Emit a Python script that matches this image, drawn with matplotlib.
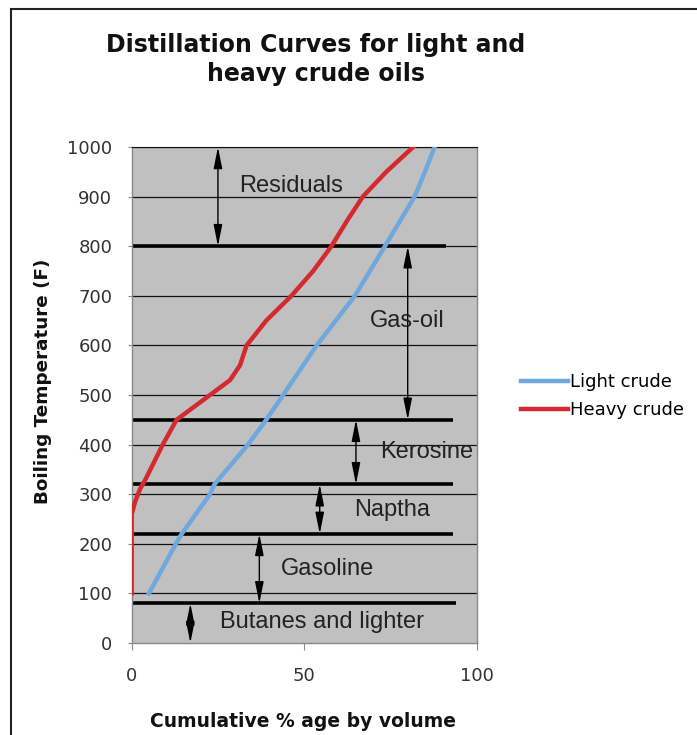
import matplotlib
matplotlib.use("Agg")
import matplotlib.pyplot as plt
from matplotlib.patches import Rectangle

# ---- data ----
light_pct = [5, 12.8, 14.5, 22.7, 24, 33.7, 39, 43.9, 53.6, 64.7, 73.4, 82, 85, 87.8]
light_temp = [100, 200, 220, 300, 320, 400, 450, 500, 600, 700, 800, 900, 950, 1000]

heavy_pct = [0, 0, 1, 2.4, 4, 9, 13, 22.7, 28.5, 31.4, 33.3, 39, 46.3, 52.6, 57.9, 62.3, 67, 73.8, 81.6]
heavy_temp = [100, 260, 285, 310, 330, 400, 450, 500, 530, 560, 600, 650, 700, 750, 800, 850, 900, 950, 1000]

cut_temps = [800, 450, 320, 220, 80]
cut_ends = [91, 93, 93, 93, 94]

band_names = ["Residuals", "Gas-oil", "Kerosine", "Naptha", "Gasoline", "Butanes and lighter"]
band_low = [800, 450, 320, 220, 80, 0]
band_high = [1000, 800, 450, 320, 220, 80]
arrow_x = [25, 80, 65, 54.5, 37, 17]
label_x = [46.2, 80, 85.6, 75.5, 56.7, 55.2]
label_y = [909, 637, 373, 256, 137, 30]

x_ticks = [0, 50, 100]
y_ticks = list(range(0, 1001, 100))

title = "Distillation Curves for light and\nheavy crude oils"
xlabel = "Cumulative % age by volume"
ylabel = "Boiling Temperature (F)"

W, H = 697, 735

# ---- figure ----
fig = plt.figure(figsize=(W / 100, H / 100), dpi=100)
fig.patch.set_facecolor("white")
fig.patches.append(Rectangle((11 / W, -0.05), 1.2, 1 - 9 / H + 0.05, transform=fig.transFigure,
                             fill=False, edgecolor="#222222", linewidth=1.5, zorder=0))

ax = fig.add_axes([131.7 / W, 1 - 643 / H, 345 / W, (643 - 147) / H])
ax.set_facecolor("#C0C0C0")
ax.set_xlim(0, 100)
ax.set_ylim(0, 1000)

for y in y_ticks[1:]:
    ax.axhline(y, color="#111111", linewidth=0.9, zorder=1)

for t, e in zip(cut_temps, cut_ends):
    ax.plot([0, e], [t, t], color="black", linewidth=2.6, zorder=2, solid_capstyle="butt")

for name, lo, hi, axx, lx, ly in zip(band_names, band_low, band_high, arrow_x, label_x, label_y):
    ax.annotate("", xy=(axx, lo), xytext=(axx, hi),
                arrowprops=dict(arrowstyle="<|-|>,head_length=1.0,head_width=0.2",
                                color="black", lw=1.0, shrinkA=0, shrinkB=0, mutation_scale=13),
                zorder=3)
    ax.text(lx, ly, name, ha="center", va="baseline", fontsize=17,
            family="Liberation Sans", color="#222222", zorder=4)

l1, = ax.plot(light_pct, light_temp, color="#6FA8DC", linewidth=3.2, zorder=5, label="Light crude")
l2, = ax.plot(heavy_pct, heavy_temp, color="#D42A2F", linewidth=3.2, zorder=5, label="Heavy crude")

for s in ["left", "bottom", "right"]:
    ax.spines[s].set_color("#888888")
    ax.spines[s].set_linewidth(1.0)
ax.spines["top"].set_color("#111111")

ax.set_xticks(x_ticks)
ax.set_yticks(y_ticks)
ax.tick_params(axis="both", direction="out", color="#888888", labelsize=13,
               labelcolor="#333333")
ax.tick_params(axis="y", length=3, pad=11)
ax.tick_params(axis="x", length=5, pad=12)

fig.text(302.5 / W, 1 - 727 / H, xlabel, ha="center", va="baseline", fontsize=13.5,
         fontweight="bold", color="#111111")
fig.text(43.5 / W, 1 - 381 / H, ylabel, ha="center", va="center", rotation=90,
         fontsize=13.2, fontweight="bold", color="#111111")

fig.text(316 / W, 1 - 33 / H, title, ha="center", va="top", fontsize=17,
         fontweight="bold", linespacing=1.27, color="#111111")

fig.legend(handles=[l1, l2], loc="center left", bbox_to_anchor=(505 / W, 1 - 396 / H),
           frameon=False, fontsize=13, handlelength=2.6, handletextpad=0.1,
           labelspacing=0.55)

fig.savefig("out.png", dpi=100)
